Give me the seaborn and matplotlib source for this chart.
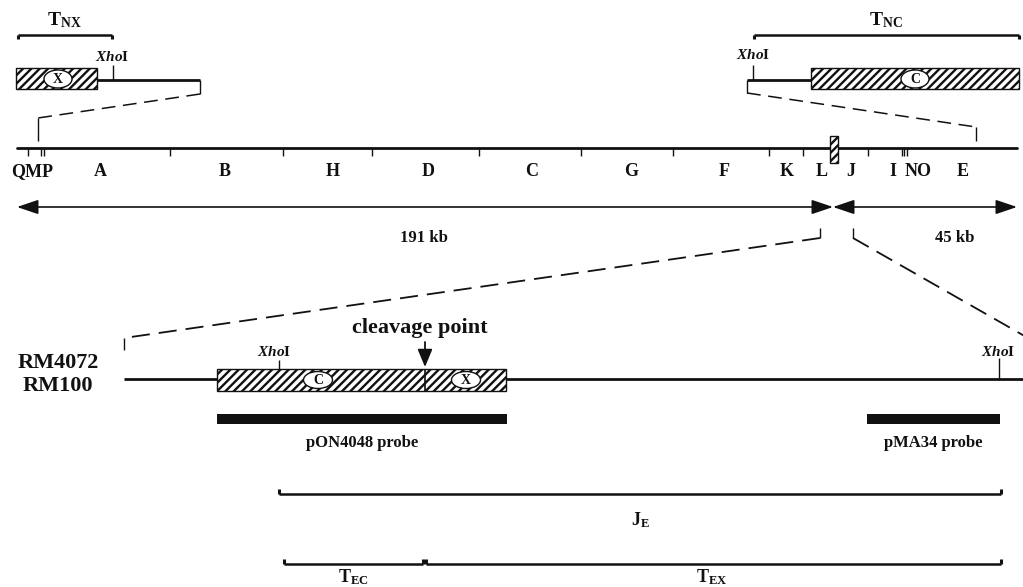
import matplotlib
matplotlib.use("Agg")
import matplotlib.pyplot as plt
import seaborn as sns
from matplotlib.patches import Rectangle, Ellipse, FancyArrowPatch

# ---------------- data ----------------
fragment_labels = ["QMP", "A", "B", "H", "D", "C", "G", "F", "K", "L", "J", "I", "NO", "E"]
fragment_label_x = [32, 100, 225, 333, 428, 532, 631, 724, 787, 822, 851, 893, 918, 963]
site_x = [28, 41, 44, 170, 283, 372, 479, 581, 673, 769, 803, 868, 902, 904, 907]
map_start, map_end, junction_x = 17, 1017, 833
arm_labels = ["191 kb", "45 kb"]
arm_label_x = [424, 955]

top_brackets = [("NX", 18, 112, 64), ("NC", 754, 1019, 886)]
probe_names = ["pON4048 probe", "pMA34 probe"]
probe_start = [217, 867]
probe_end = [507, 1000]
strain_names = ["RM4072", "RM100"]
fragments_bottom = [("J_E", 279, 1001, 494, 640, 520),
                    ("T_EC", 284, 423, 564, 353, 577),
                    ("T_EX", 426, 1001, 564, 712, 577)]

# ---------------- style ----------------
sns.set_theme(style="white")
plt.rcParams["font.family"] = ["Liberation Serif", "DejaVu Serif"]
plt.rcParams["font.weight"] = "bold"
plt.rcParams["mathtext.fontset"] = "custom"
plt.rcParams["mathtext.rm"] = "Liberation Serif:bold"
plt.rcParams["mathtext.it"] = "Liberation Serif:italic:bold"
plt.rcParams["mathtext.bf"] = "Liberation Serif:bold"
plt.rcParams["mathtext.sf"] = "Liberation Serif"
plt.rcParams["hatch.linewidth"] = 1.7
plt.rcParams["hatch.color"] = "black"

fig = plt.figure(figsize=(10.23, 5.87), dpi=100)
ax = fig.add_axes([0, 0, 1, 1])
ax.set_xlim(0, 1023)
ax.set_ylim(587, 0)
ax.axis("off")

K = "#111111"


def hline(x0, x1, y, lw=1.8, z=2):
    ax.plot([x0, x1], [y, y], color=K, lw=lw, solid_capstyle="butt", zorder=z)


def vline(x, y0, y1, lw=1.0, z=2):
    ax.plot([x, x], [y0, y1], color=K, lw=lw, solid_capstyle="butt", zorder=z)


def dashed(p0, p1, lw=1.1, dash=(9, 5)):
    ax.plot([p0[0], p1[0]], [p0[1], p1[1]], color=K, lw=lw,
            linestyle=(0, dash), zorder=2)


def bracket(x0, x1, y, tick, lw=1.8):
    hline(x0, x1, y, lw=lw)
    vline(x0, y, y + tick, lw=2.2)
    vline(x1, y, y + tick, lw=2.2)


def hatched(x0, x1, y0, y1):
    ax.add_patch(Rectangle((x0, y0), x1 - x0, y1 - y0, facecolor="white",
                           edgecolor=K, hatch="////", lw=1.0, zorder=3))


def oval(x, y, letter, w=28, h=18):
    ax.add_patch(Ellipse((x, y), w, h, facecolor="white", edgecolor=K,
                         lw=1.0, zorder=4))
    ax.text(x, y + 0.5, letter, ha="center", va="center", fontsize=10,
            fontweight="bold", zorder=5, color=K)


def xho(x, y):
    ax.text(x, y, r"$\mathit{Xho}\mathrm{I}$", ha="center", va="center",
            fontsize=11, color=K)


# ---------------- top insets ----------------
for sub, x0, x1, lx in top_brackets:
    bracket(x0, x1, 35, 4)
    ax.text(lx, 20, r"$\mathrm{T}_{\mathrm{%s}}$" % sub, ha="center",
            va="center", fontsize=14, color=K)

# left inset (X end)
hatched(16, 97, 68, 89)
oval(58, 79, "X")
hline(97, 200, 80, lw=2.0)
vline(113, 65, 80)
xho(112, 57)
vline(200, 80, 94)
dashed((200, 94), (38, 118))
vline(38, 118, 141)

# right inset (C end)
hatched(811, 1019, 68, 89)
oval(915, 79, "C")
hline(747, 811, 80, lw=2.0)
vline(753, 65, 80)
xho(753, 55)
vline(747, 80, 93)
dashed((747, 93), (976, 127))
vline(976, 127, 141)

# ---------------- chromosome map ----------------
sns.lineplot(x=[map_start, map_end], y=[148, 148], ax=ax, color=K, lw=2.0,
             zorder=2, legend=False)
for sx in site_x:
    vline(sx, 148, 156)
hatched(830, 838, 136, 163)
for lab, lx in zip(fragment_labels, fragment_label_x):
    ax.text(lx, 172, lab, ha="center", va="center", fontsize=13, color=K)

for (a, b) in [(map_start, junction_x), (junction_x, map_end)]:
    ax.add_patch(FancyArrowPatch((a, 207), (b, 207),
                                 arrowstyle="<|-|>,head_length=0.65,head_width=0.22",
                                 mutation_scale=20, lw=1.2, color=K,
                                 shrinkA=0, shrinkB=0, zorder=3))
for lab, lx in zip(arm_labels, arm_label_x):
    ax.text(lx, 238, lab, ha="center", va="center", fontsize=12, color=K)

# zoom connectors
vline(820, 228, 238)
vline(853, 228, 238)
dashed((820, 238), (124, 338), lw=1.3, dash=(10, 5))
dashed((853, 238), (1035, 342), lw=1.3, dash=(10, 5))
vline(124, 338, 350)

# ---------------- lower detail ----------------
ax.text(58, 363, strain_names[0], ha="center", va="center", fontsize=16, color=K)
ax.text(58, 386, strain_names[1], ha="center", va="center", fontsize=16, color=K)
hline(124, 1023, 379, lw=2.0, z=1)
hatched(217, 506, 369, 391)
vline(425, 369, 391, lw=1.2, z=4)
oval(318, 380, "C", w=29, h=17)
oval(466, 380, "X", w=29, h=17)
vline(279, 360, 369)
xho(274, 352)
vline(999, 358, 379)
xho(998, 352)

ax.text(420, 328, "cleavage point", ha="center", va="center", fontsize=16, color=K)
ax.add_patch(FancyArrowPatch((425, 342), (425, 367),
                             arrowstyle="-|>,head_length=0.6,head_width=0.25",
                             mutation_scale=18, lw=1.3, color=K,
                             shrinkA=0, shrinkB=0, zorder=5))

# probes
for name, p0, p1 in zip(probe_names, probe_start, probe_end):
    ax.add_patch(Rectangle((p0, 414), p1 - p0, 10, facecolor=K, edgecolor="none", zorder=3))
    ax.text((p0 + p1) / 2, 443, name, ha="center", va="center", fontsize=12, color=K)

# fragments
for name, x0, x1, y, lx, ly in fragments_bottom:
    bracket(x0, x1, y, -5)
    base, sub = name.split("_")
    ax.text(lx, ly, r"$\mathsf{%s}_{\mathsf{%s}}$" % (base, sub), ha="center",
            va="center", fontsize=13, color=K)

fig.savefig("out.png", dpi=100, facecolor="white")
